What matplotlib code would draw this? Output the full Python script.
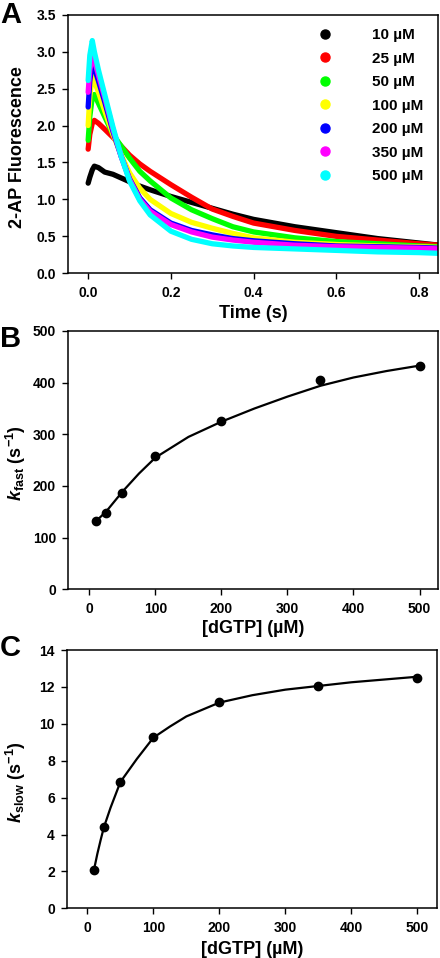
import matplotlib
matplotlib.use("Agg")
import matplotlib.pyplot as plt
from matplotlib.lines import Line2D

plt.rcParams['font.family'] = ['Liberation Sans', 'DejaVu Sans']
plt.rcParams['font.weight'] = 'bold'
plt.rcParams['mathtext.fontset'] = 'custom'
plt.rcParams['mathtext.rm'] = 'Liberation Sans:bold'
plt.rcParams['mathtext.it'] = 'Liberation Sans:italic:bold'
plt.rcParams['mathtext.bf'] = 'Liberation Sans:bold'

# ---------------- Panel A data ----------------
time_s = [0, 0.004, 0.01, 0.015, 0.025, 0.04, 0.06, 0.08, 0.1, 0.125, 0.15,
          0.2, 0.25, 0.3, 0.35, 0.4, 0.5, 0.6, 0.7, 0.8, 0.85]
conc_labels = ['10 \u00b5M', '25 \u00b5M', '50 \u00b5M', '100 \u00b5M',
               '200 \u00b5M', '350 \u00b5M', '500 \u00b5M']
conc_colors = ['#000000', '#ff0000', '#00ff00', '#ffff00', '#0000ff',
               '#ff00ff', '#00ffff']
fl_10 = [1.22, 1.30, 1.40, 1.45, 1.43, 1.37, 1.34, 1.29, 1.24, 1.18, 1.13,
         1.04, 0.96, 0.88, 0.80, 0.73, 0.63, 0.55, 0.47, 0.41, 0.38]
fl_25 = [1.68, 1.88, 2.03, 2.07, 2.03, 1.95, 1.84, 1.72, 1.60, 1.48, 1.38,
         1.20, 1.03, 0.87, 0.77, 0.68, 0.58, 0.50, 0.45, 0.40, 0.38]
fl_50 = [1.80, 2.12, 2.38, 2.42, 2.30, 2.12, 1.88, 1.72, 1.56, 1.38, 1.25,
         1.02, 0.86, 0.74, 0.63, 0.56, 0.48, 0.43, 0.40, 0.37, 0.36]
fl_100 = [2.00, 2.40, 2.66, 2.60, 2.45, 2.20, 1.88, 1.60, 1.36, 1.15, 1.00,
          0.81, 0.69, 0.61, 0.54, 0.48, 0.42, 0.39, 0.37, 0.36, 0.35]
fl_200 = [2.25, 2.60, 2.86, 2.78, 2.60, 2.32, 1.92, 1.58, 1.28, 1.02, 0.86,
          0.68, 0.58, 0.52, 0.47, 0.44, 0.40, 0.37, 0.36, 0.35, 0.34]
fl_350 = [2.45, 2.75, 2.95, 2.88, 2.68, 2.38, 1.95, 1.58, 1.27, 1.00, 0.84,
          0.66, 0.56, 0.49, 0.45, 0.42, 0.38, 0.36, 0.35, 0.34, 0.33]
fl_500 = [2.61, 2.95, 3.15, 3.00, 2.75, 2.42, 1.98, 1.58, 1.25, 0.98, 0.79,
          0.57, 0.46, 0.40, 0.37, 0.35, 0.33, 0.31, 0.29, 0.28, 0.27]
traces = [fl_10, fl_25, fl_50, fl_100, fl_200, fl_350, fl_500]

# ---------------- Panel B data ----------------
dgtp = [10, 25, 50, 100, 200, 350, 500]
k_fast = [132, 147, 186, 259, 326, 405, 433]
fast_fit_x = [10, 25, 50, 75, 100, 150, 200, 250, 300, 350, 400, 450, 500]
fast_fit_y = [132, 150, 189, 224, 255, 295, 324.5, 350, 373, 394, 410, 422.5, 433]

# ---------------- Panel C data ----------------
k_slow = [2.08, 4.43, 6.86, 9.28, 11.16, 12.03, 12.5]
slow_fit_x = [10, 15, 20, 25, 35, 50, 75, 100, 125, 150, 200, 250, 300, 350,
              400, 450, 500]
slow_fit_y = [2.1, 2.95, 3.7, 4.4, 5.45, 6.85, 8.1, 9.25, 9.85, 10.4, 11.15,
              11.55, 11.85, 12.05, 12.25, 12.4, 12.55]

W, H = 440, 958
fig = plt.figure(figsize=(W / 100, H / 100), dpi=100)


def add_axes(left, top, right, bottom):
    return fig.add_axes([left / W, 1 - bottom / H, (right - left) / W, (bottom - top) / H])


def style(ax):
    for s in ['top', 'right', 'left', 'bottom']:
        ax.spines[s].set_linewidth(1.1)
    ax.tick_params(direction='out', length=4.3, width=1.0, pad=4.5, labelsize=10)
    for lab in ax.get_xticklabels() + ax.get_yticklabels():
        lab.set_fontweight('bold')


# Panel A
axA = add_axes(68.3, 14.7, 438, 273.3)
for y, c in zip(traces, conc_colors):
    axA.plot(time_s, y, color=c, lw=3.8, solid_capstyle='round', solid_joinstyle='round')
axA.set_xlim(-0.048, 0.846)
axA.set_ylim(0, 3.5)
axA.set_xticks([0.0, 0.2, 0.4, 0.6, 0.8])
axA.set_xticklabels(['0.0', '0.2', '0.4', '0.6', '0.8'])
axA.set_yticks([0.0, 0.5, 1.0, 1.5, 2.0, 2.5, 3.0, 3.5])
axA.set_yticklabels(['0.0', '0.5', '1.0', '1.5', '2.0', '2.5', '3.0', '3.5'])
style(axA)
axA.set_xlabel('Time (s)', fontsize=13, fontweight='bold')
axA.set_ylabel('2-AP Fluorescence', fontsize=13, fontweight='bold')
axA.xaxis.set_label_coords(0.5, -0.122)
axA.yaxis.set_label_coords(-0.115, 0.49)
handles = [Line2D([], [], ls='none', marker='o', ms=6.5, color=c) for c in conc_colors]
leg = axA.legend(handles, conc_labels, loc='upper left', bbox_to_anchor=(0.652, 0.948),
                 frameon=False, prop={'weight': 'bold', 'size': 11},
                 borderpad=0, borderaxespad=0, handlelength=2.0,
                 handletextpad=2.1, labelspacing=0.62)

# Panel B
axB = add_axes(68.3, 331, 438, 589.3)
axB.plot(fast_fit_x, fast_fit_y, color='black', lw=1.6)
axB.plot(dgtp, k_fast, 'o', color='black', ms=6)
axB.set_xlim(-32, 528)
axB.set_ylim(0, 500)
axB.set_xticks([0, 100, 200, 300, 400, 500])
axB.set_yticks([0, 100, 200, 300, 400, 500])
style(axB)
axB.set_xlabel('[dGTP] (\u00b5M)', fontsize=13, fontweight='bold')
axB.set_ylabel(r'$k_{\mathrm{fast}}$ (s$^{\mathrm{-1}}$)', fontsize=13, fontweight='bold')
axB.xaxis.set_label_coords(0.5, -0.118)
axB.yaxis.set_label_coords(-0.108, 0.49)

# Panel C
axC = add_axes(67, 650, 437, 908.3)
axC.plot(slow_fit_x, slow_fit_y, color='black', lw=1.6)
axC.plot(dgtp, k_slow, 'o', color='black', ms=6)
axC.set_xlim(-31, 530)
axC.set_ylim(0, 14)
axC.set_xticks([0, 100, 200, 300, 400, 500])
axC.set_yticks([0, 2, 4, 6, 8, 10, 12, 14])
style(axC)
axC.set_xlabel('[dGTP] (\u00b5M)', fontsize=13, fontweight='bold')
axC.set_ylabel(r'$k_{\mathrm{slow}}$ (s$^{\mathrm{-1}}$)', fontsize=13, fontweight='bold')
axC.xaxis.set_label_coords(0.5, -0.125)
axC.yaxis.set_label_coords(-0.105, 0.49)

# Panel letters
for letter, ypx in [('A', 23), ('B', 347), ('C', 656)]:
    fig.text(0 / W, 1 - ypx / H, letter, fontsize=21, fontweight='bold',
             ha='left', va='baseline')

fig.savefig('out.png', dpi=100)
